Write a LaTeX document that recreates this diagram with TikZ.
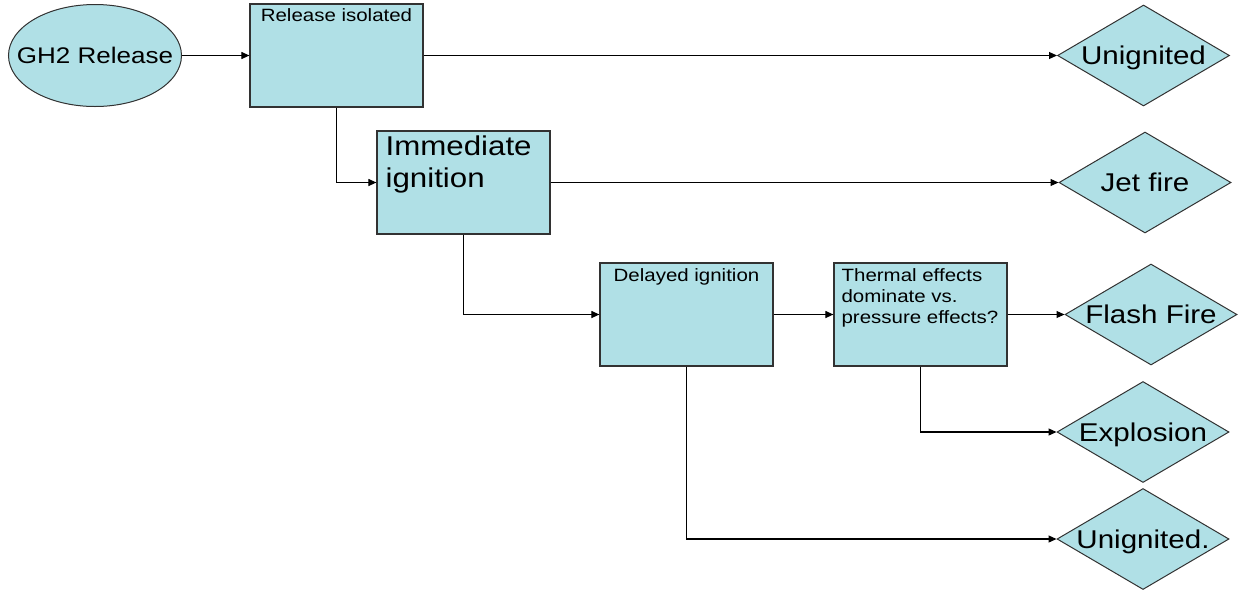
\documentclass[tikz,border=0pt]{standalone}
\usepackage{fontspec}
\setmainfont[FakeStretch=1.15]{Liberation Sans}
\usetikzlibrary{shapes.geometric,arrows.meta}
\definecolor{pb}{RGB}{176,224,230}
\definecolor{edgec}{RGB}{50,50,50}
\begin{document}
\begin{tikzpicture}[x=1pt,y=-1pt,
  box/.style={draw=edgec, fill=pb, line width=1.2pt, minimum width=173pt, minimum height=103pt, inner sep=0pt},
  dia/.style={diamond, draw=edgec, fill=pb, line width=1pt, minimum width=172pt, minimum height=101pt, inner sep=0pt, font=\fontsize{25.7}{30}\selectfont},
  ell/.style={ellipse, draw=edgec, fill=pb, line width=1pt, minimum width=173pt, minimum height=102pt, inner sep=0pt, font=\fontsize{22.6}{26}\selectfont},
  small/.style={inner sep=0pt, font=\fontsize{17.8}{21}\selectfont, align=left},
  large/.style={inner sep=0pt, font=\fontsize{27.2}{32}\selectfont, align=left},
  conn/.style={draw=black, line width=1.1pt, -{Triangle[length=8pt,width=7pt]}}]
\useasboundingbox (0,0) rectangle (1238,595);

\newcommand{\ctext}[1]{\raisebox{-0.36em}[0pt][0pt]{\makebox[0pt]{#1}}}

\node[ell] (gh) at (95,55.5) {\ctext{GH2 Release}};
\node[box] (b1) at (336.5,55.5) {};
\node[box] (b2) at (463.5,182.5) {};
\node[box] (b3) at (686.5,314.5) {};
\node[box] (b4) at (920.5,314.5) {};

\node[small, anchor=north] (t1) at ([yshift=-4.5pt]b1.north) {Release isolated};
\node[large, anchor=north west] (t2) at ([xshift=9pt,yshift=-5pt]b2.north west) {Immediate\\ignition};
\node[small, anchor=north] (t3) at ([yshift=-5.5pt]b3.north) {Delayed ignition};
\node[small, anchor=north west] (t4) at ([xshift=8pt,yshift=-5.5pt]b4.north west) {Thermal effects\\dominate vs.\\pressure effects?};

\node[dia] (d1) at (1143.5,55.5) {\ctext{Unignited}};
\node[dia] (d2) at (1145,182.5) {\ctext{Jet fire}};
\node[dia] (d3) at (1151,314.5) {\ctext{Flash Fire}};
\node[dia] (d4) at (1143,432) {\ctext{Explosion}};
\node[dia] (d5) at (1143,539) {\ctext{Unignited.}};

\draw[conn] (gh) -- (b1);
\draw[conn] (b1) -- (d1);
\draw[conn] (b1.south) |- (b2.west);
\draw[conn] (b2) -- (d2);
\draw[conn] (b2.south) |- (b3.west);
\draw[conn] (b3) -- (b4);
\draw[conn] (b4) -- (d3);
\draw[conn] (b4.south) |- (d4.west);
\draw[conn] (b3.south) |- (d5.west);
\end{tikzpicture}
\end{document}
